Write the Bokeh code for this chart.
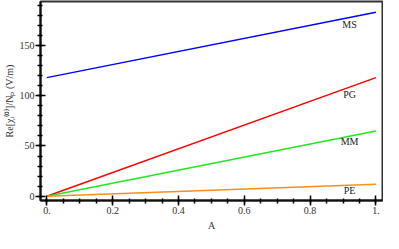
from bokeh.plotting import figure
from bokeh.models import Range1d, FixedTicker
from bokeh.core.properties import value
from bokeh.embed import file_html
from bokeh.resources import INLINE

A = [0.0, 1.0]
MS = [118, 183]
PG = [0, 118]
MM = [0, 65]
PE = [0, 12]
series_names = ["MS", "PG", "MM", "PE"]
series_colors = ["#0000ff", "#ff0000", "#22e622", "#ff8c1a"]
label_x = [0.92, 0.92, 0.92, 0.92]
label_y = [171, 101, 54.5, 5.5]

x_ticks = [0.0, 0.2, 0.4, 0.6, 0.8, 1.0]
x_tick_labels = ["0.", "0.2", "0.4", "0.6", "0.8", "1."]
x_minor = [i * 0.05 for i in range(0, 21)]
y_ticks = [0, 50, 100, 150]
y_minor = list(range(0, 200, 10))

FONT = "Liberation Serif"

p = figure(width=383, height=233, output_backend="svg", toolbar_location=None,
           x_range=Range1d(-0.0194, 1.02), y_range=Range1d(-4.2, 193.7),
           min_border_left=33, min_border_right=1, min_border_top=1, min_border_bottom=28)
p.background_fill_color = "white"
p.border_fill_color = "white"
p.xgrid.visible = False
p.ygrid.visible = False
p.outline_line_color = "#333333"
p.outline_line_width = 2

for ys, c in zip([MS, PG, MM, PE], series_colors):
    p.line(A, ys, line_color=c, line_width=1.5)

p.text(x=label_x, y=label_y, text=series_names, text_font=value(FONT),
       text_font_size="10px", text_align="center", text_baseline="middle",
       text_color="#222222")

xa = p.xaxis[0]
xa.ticker = FixedTicker(ticks=x_ticks, minor_ticks=x_minor)
xa.major_label_overrides = {t: l for t, l in zip(x_ticks, x_tick_labels)}
xa.axis_label = "A"
ya = p.yaxis[0]
ya.ticker = FixedTicker(ticks=y_ticks, minor_ticks=y_minor)
ya.axis_label = "Re[χᵢ⁽⁰⁾]/Nₚ (V/m)"

for ax in (xa, ya):
    ax.axis_line_width = 2
    ax.axis_line_color = "#111111"
    ax.major_tick_in = 5
    ax.major_tick_out = 5
    ax.minor_tick_in = 2
    ax.minor_tick_out = 3
    ax.major_tick_line_width = 1.5
    ax.minor_tick_line_width = 1.5
    ax.major_label_text_font = FONT
    ax.major_label_text_font_size = "10px"
    ax.major_label_text_color = "#333333"
    ax.axis_label_text_font = FONT
    ax.axis_label_text_font_size = "10px"
    ax.axis_label_text_font_style = "normal"
    ax.axis_label_text_color = "#333333"
xa.major_label_standoff = 1
xa.axis_label_standoff = 3
ya.major_label_standoff = 1
ya.axis_label_standoff = 2

open("out.html", "w").write(file_html(p, INLINE))
